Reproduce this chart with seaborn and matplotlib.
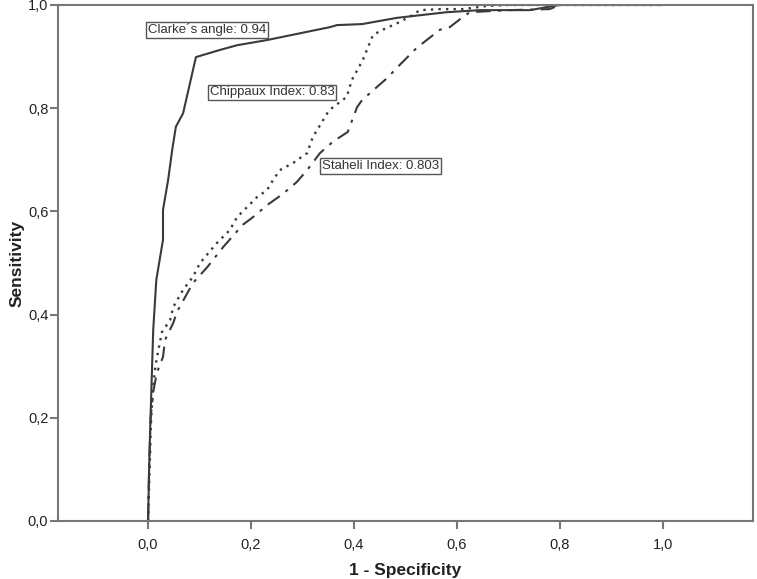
import numpy as np
import pandas as pd
import matplotlib
matplotlib.use("Agg")
import matplotlib.pyplot as plt
import seaborn as sns
from matplotlib.ticker import FuncFormatter

# ROC curves (1 - specificity, sensitivity)
clarke_x = [0.0, 0.002, 0.004, 0.007, 0.010, 0.016, 0.029, 0.029, 0.039, 0.047, 0.054,
            0.068, 0.093, 0.140, 0.173, 0.231, 0.353, 0.367, 0.416, 0.483, 0.580,
            0.645, 0.742, 0.770, 0.800, 1.0]
clarke_y = [0.0, 0.10, 0.176, 0.273, 0.370, 0.467, 0.545, 0.603, 0.661, 0.720, 0.764,
            0.790, 0.899, 0.913, 0.922, 0.932, 0.957, 0.961, 0.963, 0.975, 0.986,
            0.990, 0.990, 0.995, 1.0, 1.0]

chippaux_x = [0.0, 0.003, 0.006, 0.010, 0.014, 0.019, 0.027, 0.043, 0.049, 0.068, 0.087,
              0.101, 0.134, 0.159, 0.173, 0.212, 0.231, 0.243, 0.256, 0.282, 0.309,
              0.320, 0.348, 0.357, 0.386, 0.396, 0.417, 0.437, 0.456, 0.489, 0.515,
              0.528, 0.567, 0.612, 0.658, 0.700, 1.0]
chippaux_y = [0.0, 0.10, 0.20, 0.26, 0.298, 0.326, 0.366, 0.390, 0.415, 0.448, 0.473,
              0.500, 0.539, 0.564, 0.589, 0.628, 0.641, 0.661, 0.680, 0.694, 0.713,
              0.744, 0.790, 0.800, 0.822, 0.855, 0.893, 0.942, 0.952, 0.967, 0.981,
              0.990, 0.992, 0.992, 0.998, 1.0, 1.0]

staheli_x = [0.0, 0.002, 0.005, 0.010, 0.017, 0.029, 0.033, 0.049, 0.056, 0.087, 0.115,
             0.146, 0.184, 0.204, 0.231, 0.262, 0.289, 0.309, 0.334, 0.359, 0.388,
             0.406, 0.416, 0.464, 0.489, 0.522, 0.567, 0.586, 0.612, 0.625, 0.700,
             0.780, 0.800, 1.0]
staheli_y = [0.0, 0.10, 0.20, 0.25, 0.287, 0.318, 0.351, 0.384, 0.405, 0.461, 0.492,
             0.531, 0.574, 0.589, 0.612, 0.634, 0.657, 0.680, 0.713, 0.735, 0.754,
             0.802, 0.816, 0.858, 0.884, 0.917, 0.952, 0.957, 0.977, 0.986, 0.990,
             0.992, 1.0, 1.0]

labels = ["Clarke\u00b4s angle: 0.94", "Chippaux Index: 0.83", "Staheli Index: 0.803"]
label_pos = [(0.0, 0.952), (0.12, 0.831), (0.338, 0.688)]

sns.set_style("white")
plt.rcParams['font.family'] = ['Liberation Sans', 'DejaVu Sans']

fig = plt.figure(figsize=(7.57, 5.79), dpi=100)
ax = fig.add_axes([0.0766, 0.1002, 0.918, 0.8912])

line_col = '#3a3a3a'
sns.lineplot(x=clarke_x, y=clarke_y, ax=ax, color=line_col, linewidth=1.5,
             sort=False, estimator=None)
l2 = sns.lineplot(x=chippaux_x, y=chippaux_y, ax=ax, color=line_col, linewidth=1.7,
                  sort=False, estimator=None).lines[-1]
l2.set_dashes((1.0, 2.2))
l3 = sns.lineplot(x=staheli_x, y=staheli_y, ax=ax, color=line_col, linewidth=1.5,
                  sort=False, estimator=None).lines[-1]
l3.set_dashes((7, 3.5, 1.5, 3.5))

for txt, (x, y) in zip(labels, label_pos):
    ax.text(x, y, txt, ha='left', va='center', fontsize=9.5, color='#333333',
            bbox=dict(boxstyle='square,pad=0.12', facecolor='white',
                      edgecolor='#555555', linewidth=1.0))

ax.set_xlim(-0.175, 1.175)
ax.set_ylim(0, 1.0)
ax.set_xticks([0, 0.2, 0.4, 0.6, 0.8, 1.0])
ax.set_yticks([0, 0.2, 0.4, 0.6, 0.8, 1.0])
comma = FuncFormatter(lambda v, p: f"{v:.1f}".replace('.', ','))
ax.xaxis.set_major_formatter(comma)
ax.yaxis.set_major_formatter(comma)

for s in ax.spines.values():
    s.set_color('#777777')
    s.set_linewidth(1.5)
ax.tick_params(axis='both', direction='out', length=6, width=1.5, color='#777777',
               labelsize=10.5, labelcolor='#222222', bottom=True, left=True)
ax.tick_params(axis='x', pad=6)
ax.tick_params(axis='y', pad=1)

ax.set_xlabel("1 - Specificity", fontsize=12.5, fontweight='bold', color='#222222',
              labelpad=8)
ax.set_ylabel("Sensitivity", fontsize=12.5, fontweight='bold', color='#222222',
              labelpad=2)

fig.savefig("out.png", dpi=100)
